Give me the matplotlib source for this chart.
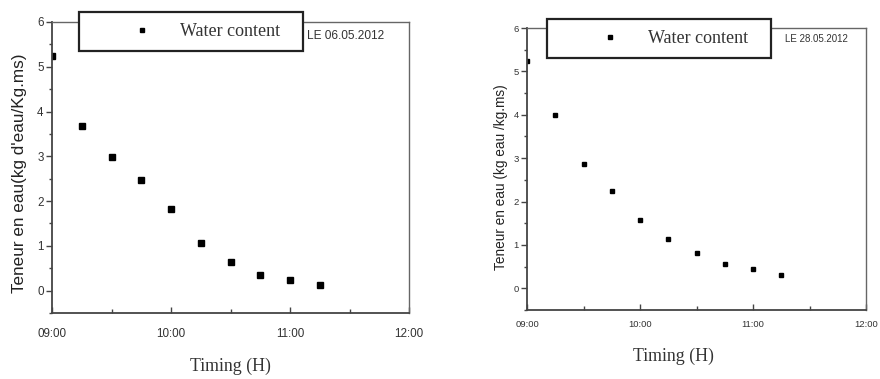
import matplotlib
matplotlib.use("Agg")
import matplotlib.pyplot as plt
from matplotlib.patches import Rectangle
from matplotlib.ticker import FuncFormatter, MultipleLocator

times = ["09:00", "09:15", "09:30", "09:45", "10:00", "10:15", "10:30", "10:45", "11:00", "11:15"]
water_0605 = [5.25, 3.68, 2.98, 2.46, 1.82, 1.07, 0.65, 0.35, 0.23, 0.12]
water_2805 = [5.25, 4.00, 2.87, 2.25, 1.57, 1.13, 0.81, 0.56, 0.44, 0.31]
series_label = "Water content"
date_left = "LE 06.05.2012"
date_right = "LE 28.05.2012"
ylabel_left = "Teneur en eau(kg d'eau/Kg.ms)"
ylabel_right = "Teneur en eau (kg eau /kg.ms)"
xlabel = "Timing (H)"

def to_hours(t):
    h, m = t.split(":")
    return int(h) + int(m) / 60.0

hours = [to_hours(t) for t in times]

def fmt(x, pos):
    h = int(round(x * 60)) // 60
    m = int(round(x * 60)) % 60
    return f"{h:02d}:{m:02d}"

fig = plt.figure(figsize=(8.8, 3.79), dpi=100)
fig.patch.set_facecolor("white")

SERIF = ["Liberation Serif", "DejaVu Serif"]
SANS = ["Liberation Sans", "DejaVu Sans"]

panels = [
    dict(rect=[52/880, 1-313/379, 357/880, 291/379], data=water_0605, date=date_left,
         ylabel=ylabel_left, tick_fs=8.4, ylab_fs=12.3, ms=4.4, lms=3.2, xpad=10.5,
         box=(0.076, 0.900, 0.627, 0.134), leg=(0.227, 0.967),
         date_pos=(0.714, 0.952), date_fs=8.6,
         xlab_pos=(0.50, -0.155), ylab_pos=(-0.070, 0.481)),
    dict(rect=[527/880, 1-310/379, 339/880, 282/379], data=water_2805, date=date_right,
         ylabel=ylabel_right, tick_fs=6.8, ylab_fs=9.8, ms=3.4, lms=3.2, xpad=7,
         box=(0.059, 0.894, 0.661, 0.138), leg=(0.218, 0.963),
         date_pos=(0.761, 0.961), date_fs=7.0,
         xlab_pos=(0.431, -0.135), ylab_pos=(-0.056, 0.47)),
]

for p in panels:
    ax = fig.add_axes(p["rect"])
    ax.plot(hours, p["data"], linestyle="none", marker="s", color="black",
            markersize=p["ms"], label=series_label)
    ax.set_xlim(9, 12)
    ax.set_ylim(-0.5, 6)
    ax.xaxis.set_major_locator(MultipleLocator(1))
    ax.xaxis.set_minor_locator(MultipleLocator(0.5))
    ax.yaxis.set_major_locator(MultipleLocator(1))
    ax.yaxis.set_minor_locator(MultipleLocator(0.5))
    ax.xaxis.set_major_formatter(FuncFormatter(fmt))
    for s in ax.spines.values():
        s.set_color("#666666")
        s.set_linewidth(1.0)
    ax.spines["left"].set_color("#444444")
    ax.spines["bottom"].set_color("#444444")
    ax.spines["left"].set_linewidth(1.3)
    ax.spines["bottom"].set_linewidth(1.3)
    ax.tick_params(axis="y", which="major", direction="out", length=4, width=1, color="#444444",
                   labelsize=p["tick_fs"], pad=2)
    ax.tick_params(axis="y", which="minor", direction="out", length=2, width=1, color="#444444")
    ax.tick_params(axis="x", which="major", direction="in", length=4, width=1, color="#444444",
                   labelsize=p["tick_fs"], pad=p["xpad"])
    ax.tick_params(axis="x", which="minor", direction="in", length=3, width=1, color="#444444")
    for lab in ax.get_xticklabels() + ax.get_yticklabels():
        lab.set_family(SANS)
        lab.set_color("#333333")
    ax.set_xlabel(xlabel, family=SERIF, fontsize=12.9, color="#333333")
    ax.xaxis.set_label_coords(*p["xlab_pos"])
    ax.set_ylabel(p["ylabel"], family=SANS, fontsize=p["ylab_fs"], color="#222222")
    ax.yaxis.set_label_coords(*p["ylab_pos"])

    bx, by, bw, bh = p["box"]
    rect = Rectangle((bx, by), bw, bh, transform=ax.transAxes, facecolor="white",
                     edgecolor="#222222", linewidth=1.6, clip_on=False, zorder=5)
    ax.add_patch(rect)
    leg = ax.legend(loc="center left", bbox_to_anchor=p["leg"], frameon=False,
                    borderpad=0, borderaxespad=0, handlelength=1.0, handletextpad=1.6,
                    prop={"family": SERIF, "size": 13}, markerscale=p["lms"] / p["ms"])
    leg.set_zorder(6)
    for t in leg.get_texts():
        t.set_color("#333333")
    ax.text(*p["date_pos"], p["date"], transform=ax.transAxes, family=SANS,
            fontsize=p["date_fs"], color="#333333", va="center", ha="left", zorder=6)

fig.savefig("out.png", dpi=100, facecolor="white")
